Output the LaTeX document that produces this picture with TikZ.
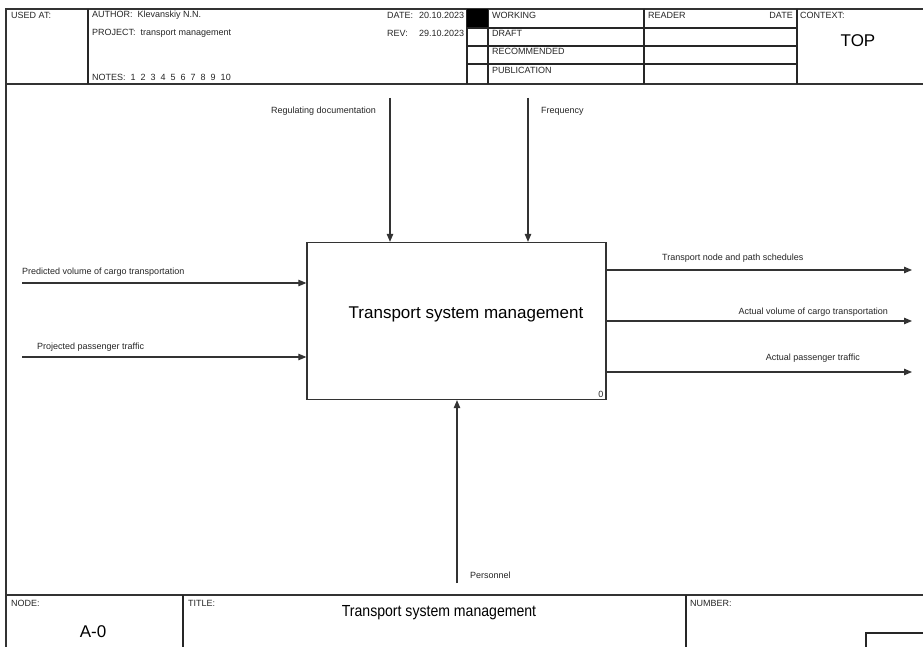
\documentclass[tikz,border=0pt]{standalone}
\usepackage{fontspec}
\setmainfont{Liberation Sans}
\usetikzlibrary{arrows.meta}
\begin{document}
\begin{tikzpicture}[x=1pt,y=-1pt,
  frame/.style={draw=black!80, line width=1.4pt},
  hline/.style={draw=black!85, line width=1.2pt},
  small/.style={font=\fontsize{9}{10}\selectfont, inner sep=0pt, text=black!85},
  big/.style={font=\fontsize{17}{19}\selectfont, inner sep=0pt},
  arr/.style={draw=black!80, line width=1.1pt, -{Triangle[length=8pt,width=6.5pt]}},
  actbox/.style={draw=black!80, line width=1.3pt, minimum width=299pt, minimum height=157pt, inner sep=0pt}]
\useasboundingbox (0,0) rectangle (923,647);
\fill[white] (0,0) rectangle (923,647);
\begin{scope}
\clip (0,0) rectangle (923,647);
% frame
\draw[frame] (935,9) -- (6,9) -- (6,660);
\draw[frame] (6,84) -- (935,84);
\draw[frame] (6,595) -- (935,595);
% header verticals
\draw[hline] (88,9) -- (88,84);
\draw[hline] (467,9) -- (467,84);
\draw[hline] (488,9) -- (488,84);
\draw[hline] (644,9) -- (644,84);
\draw[hline] (797,9) -- (797,84);
\fill[black] (467,9) rectangle (488,28);
\draw[hline] (467,28) -- (797,28);
\draw[hline] (467,46) -- (797,46);
\draw[hline] (467,64) -- (797,64);
% bottom verticals
\draw[hline] (183,595) -- (183,660);
\draw[hline] (686,595) -- (686,660);
\draw[hline] (866,660) -- (866,633) -- (935,633);
\end{scope}
% header texts
\node[small, anchor=west] (usedat) at (11,15) {USED AT:};
\node[small, anchor=west] (author) at (92,15) {AUTHOR:\ \ Klevanskiy N.N.};
\node[small, anchor=west] (project) at (92,33) {PROJECT:\ \ transport management};
\node[small, anchor=west] (notes) at (92,77) {NOTES:\ \ 1\ \ 2\ \ 3\ \ 4\ \ 5\ \ 6\ \ 7\ \ 8\ \ 9\ \ 10};
\node[small, anchor=west] (datel) at (387,15) {DATE:};
\node[small, anchor=west] (datev) at (419,15) {20.10.2023};
\node[small, anchor=west] (revl) at (387,33) {REV:};
\node[small, anchor=west] (revv) at (419,33) {29.10.2023};
\node[small, anchor=west] (working) at (492,15) {WORKING};
\node[small, anchor=west] (draft) at (492,33) {DRAFT};
\node[small, anchor=west] (recom) at (492,51) {RECOMMENDED};
\node[small, anchor=west] (publ) at (492,70) {PUBLICATION};
\node[small, anchor=west] (reader) at (648,15) {READER};
\node[small, anchor=east] (rdate) at (793,15) {DATE};
\node[small, anchor=west] (context) at (800,15) {CONTEXT:};
\node[big] (top) at (858,41) {TOP};
% bottom texts
\node[small, anchor=west] (nodel) at (11,603) {NODE:};
\node[small, anchor=west] (titlel) at (188,603) {TITLE:};
\node[small, anchor=west] (numberl) at (690,603) {NUMBER:};
\node[big] (nodeno) at (93,632) {A-0};
\node[font=\fontsize{16}{18}\selectfont, inner sep=0pt] (title) at (439,613) {\scalebox{0.88}[1]{Transport system management}};
% activity box
\node[actbox] (box) at (456.5,321) {};
\node[big] (boxtext) at (466,314) {Transport system management};
\node[small, anchor=south east] (boxno) at ([xshift=-3pt,yshift=2pt]box.south east) {0};
% controls
\coordinate (c1) at (390,98);
\coordinate (c2) at (528,98);
\draw[arr] (c1) -- (c1 |- box.north);
\draw[arr] (c2) -- (c2 |- box.north);
\node[small, anchor=east] (c1l) at (376,111) {Regulating documentation};
\node[small, anchor=west] (c2l) at (541,111) {Frequency};
% inputs
\coordinate (i1) at (22,283);
\coordinate (i2) at (22,357);
\draw[arr] (i1) -- (i1 -| box.west);
\draw[arr] (i2) -- (i2 -| box.west);
\node[small, anchor=west] (i1l) at (22,272) {Predicted volume of cargo transportation};
\node[small, anchor=west] (i2l) at (37,347) {Projected passenger traffic};
% outputs
\coordinate (o1) at (912,270);
\coordinate (o2) at (912,321);
\coordinate (o3) at (912,372);
\draw[arr] (o1 -| box.east) -- (o1);
\draw[arr] (o2 -| box.east) -- (o2);
\draw[arr] (o3 -| box.east) -- (o3);
\node[small, anchor=west] (o1l) at (662,258) {Transport node and path schedules};
\node[small, anchor=east] (o2l) at (888,312) {Actual volume of cargo transportation};
\node[small, anchor=east] (o3l) at (860,358) {Actual passenger traffic};
% mechanism
\coordinate (m1) at (457,583);
\draw[arr] (m1) -- (m1 |- box.south);
\node[small, anchor=west] (m1l) at (470,575) {Personnel};
\end{tikzpicture}
\end{document}
